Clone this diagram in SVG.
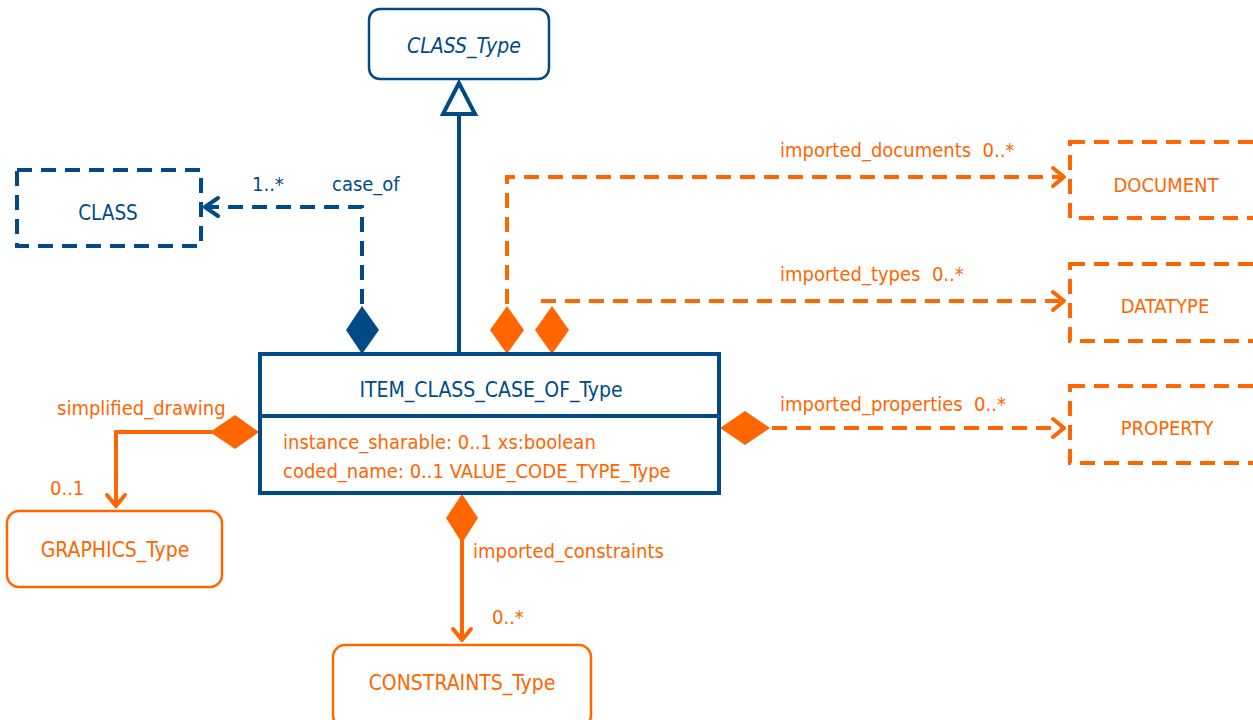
<svg xmlns="http://www.w3.org/2000/svg" width="1253" height="720" viewBox="0 0 1253 720">
  <style>
    text { font-family: "DejaVu Sans Condensed", "DejaVu Sans", sans-serif; font-size: 20px; white-space: pre; }
    .name { font-size: 21px; }
    .b { fill: #004B87; }
    .o { fill: #FF6600; }
    .mid { text-anchor: middle; }
    .boxB { fill: #fff; stroke: #004B87; stroke-width: 2.5; }
    .boxO { fill: #fff; stroke: #FF6600; stroke-width: 2.5; }
    .dashB { fill: none; stroke: #004B87; stroke-width: 4; stroke-dasharray: 15 9; }
    .dashO { fill: none; stroke: #FF6600; stroke-width: 4; stroke-dasharray: 15 9; }
    .lineB { fill: none; stroke: #004B87; stroke-width: 4; }
    .lineO { fill: none; stroke: #FF6600; stroke-width: 4; }
    .arrO { fill: none; stroke: #FF6600; stroke-width: 4; stroke-linecap: round; stroke-linejoin: round; }
    .arrB { fill: none; stroke: #004B87; stroke-width: 4; stroke-linecap: round; stroke-linejoin: round; }
  </style>
  <rect width="1253" height="720" fill="#fff"/>

  <g id="connectors">
    <!-- generalization to CLASS_Type -->
    <line class="lineB" x1="459" y1="352" x2="459" y2="114"/>
    <polygon points="459,83 443,114 475,114" fill="#fff" stroke="#004B87" stroke-width="4" stroke-linejoin="miter"/>

    <!-- case_of -->
    <path class="dashB" d="M362,304 V207 H206"/>
    <polyline class="arrB" points="218,198 205,207 218,216"/>
    <polygon points="362,306 379,330 362,354 346,330" fill="#004B87"/>
    <text class="b" x="252" y="191">1..*</text>
    <text class="b" x="332" y="191">case_of</text>

    <!-- imported_documents -->
    <path class="dashO" d="M507,304 V177 H1064"/>
    <polyline class="arrO" points="1053,168 1064,177 1053,186"/>
    <polygon points="507,306 524,330 507,354 490,330" fill="#FF6600"/>
    <text class="o" x="780" y="157">imported_documents  0..*</text>

    <!-- imported_types -->
    <path class="dashO" d="M541,301 H1064"/>
    <polyline class="arrO" points="1053,292 1064,301 1053,310"/>
    <polygon points="552,306 569,330 552,354 535,330" fill="#FF6600"/>
    <text class="o" x="780" y="281">imported_types  0..*</text>

    <!-- imported_properties -->
    <path class="dashO" d="M772,428 H1064"/>
    <polyline class="arrO" points="1053,419 1064,428 1053,437"/>
    <polygon points="720,428 745,411 770,428 745,445" fill="#FF6600"/>
    <text class="o" x="780" y="411">imported_properties  0..*</text>

    <!-- simplified_drawing -->
    <path class="lineO" d="M212,432 H116 V506"/>
    <polyline class="arrO" points="107,495 116,506 125,495"/>
    <polygon points="259,432 235,415 210,432 235,449" fill="#FF6600"/>
    <text class="o" x="57" y="415">simplified_drawing</text>
    <text class="o" x="50" y="495">0..1</text>

    <!-- imported_constraints -->
    <path class="lineO" d="M462,540 V640"/>
    <polyline class="arrO" points="453,629 462,640 471,629"/>
    <polygon points="462,494 478,518 462,543 446,518" fill="#FF6600"/>
    <text class="o" x="473" y="558">imported_constraints</text>
    <text class="o" x="492" y="624">0..*</text>
  </g>

  <g id="class-type">
    <rect class="boxB" x="369" y="9" width="180" height="70" rx="11"/>
    <text class="b mid name" x="464" y="53" font-style="italic">CLASS_Type</text>
  </g>

  <g id="class">
    <rect class="dashB" x="17" y="170" width="184" height="76"/>
    <text class="b mid" x="108" y="220" style="font-size:20.5px">CLASS</text>
  </g>

  <g id="item-class-case-of">
    <rect x="260" y="354" width="459" height="139" fill="#fff" stroke="#004B87" stroke-width="4"/>
    <line x1="260" y1="416" x2="719" y2="416" stroke="#004B87" stroke-width="4"/>
    <text class="b mid name" x="491" y="397">ITEM_CLASS_CASE_OF_Type</text>
    <text class="o" x="283" y="449">instance_sharable: 0..1 xs:boolean</text>
    <text class="o" x="283" y="478">coded_name: 0..1 VALUE_CODE_TYPE_Type</text>
  </g>

  <g id="document">
    <rect class="dashO" x="1070" y="142" width="190" height="76"/>
    <text class="o mid" x="1166" y="192">DOCUMENT</text>
  </g>

  <g id="datatype">
    <rect class="dashO" x="1070" y="264" width="190" height="77"/>
    <text class="o mid" x="1165" y="313">DATATYPE</text>
  </g>

  <g id="property">
    <rect class="dashO" x="1070" y="386" width="190" height="77"/>
    <text class="o mid" x="1167" y="435">PROPERTY</text>
  </g>

  <g id="graphics-type">
    <rect class="boxO" x="7" y="511" width="215" height="76" rx="12"/>
    <text class="o mid name" x="115" y="557">GRAPHICS_Type</text>
  </g>

  <g id="constraints-type">
    <rect class="boxO" x="333" y="645" width="258" height="82" rx="12"/>
    <text class="o mid name" x="462" y="690">CONSTRAINTS_Type</text>
  </g>
</svg>
